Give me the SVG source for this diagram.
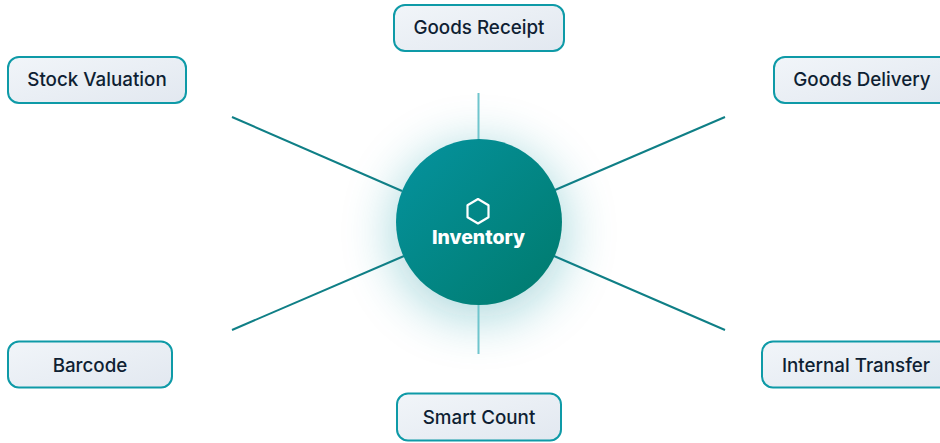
<svg xmlns="http://www.w3.org/2000/svg" width="940" height="443" viewBox="0 0 940 443">
<style>
.box{fill:url(#boxg);stroke:#0e9aa7;stroke-width:2}
.lbl{font-family:Inter,"Liberation Sans",sans-serif;font-size:18.800px;font-weight:450;fill:#0f1f33;text-anchor:middle}
.diag{stroke:#0f7f86;stroke-width:2;fill:none}
.vert{stroke:#6fc5cd;stroke-width:2;fill:none}
</style>
<defs>
<linearGradient id="boxg" x1="0" y1="0" x2="1" y2="1"><stop offset="0" stop-color="#f1f5f9"/><stop offset="1" stop-color="#e2e8f0"/></linearGradient>
<linearGradient id="hub" x1="0" y1="0" x2="1" y2="1"><stop offset="0" stop-color="#05939f"/><stop offset="1" stop-color="#007a6c"/></linearGradient>
<filter id="glow" x="-80%" y="-80%" width="260%" height="260%"><feGaussianBlur stdDeviation="26"/></filter>
</defs>
<rect width="940" height="443" fill="#fff"/>
<circle cx="479" cy="232" r="86" fill="#0e919e" opacity="0.36" filter="url(#glow)"/>
<g id="connectors">
<line class="vert" x1="478.500" y1="93" x2="478.500" y2="140"/>
<line class="vert" x1="478.500" y1="304" x2="478.500" y2="354"/>
<line class="diag" x1="232" y1="117" x2="402" y2="191"/>
<line class="diag" x1="725" y1="117" x2="555" y2="190"/>
<line class="diag" x1="232" y1="330" x2="404" y2="256"/>
<line class="diag" x1="725" y1="330" x2="554" y2="256"/>
</g>
<g id="hub-node">
<circle cx="479" cy="222" r="83" fill="url(#hub)"/>
<path d="M478 199 L488.500 205.200 L488.500 217.300 L478 223.500 L467.500 217.300 L467.500 205.200 Z" fill="none" stroke="#fff" stroke-width="2.200" stroke-linejoin="round"/>
<text x="478.500" y="243.500" font-family="Inter,'Liberation Sans',sans-serif" font-size="19" font-weight="800" fill="#fff" text-anchor="middle" textLength="93" lengthAdjust="spacingAndGlyphs">Inventory</text>
</g>
<g id="node-goods-receipt"><rect class="box" x="394" y="5" width="170" height="46" rx="11"/><text class="lbl" x="479" y="34.200">Goods Receipt</text></g>
<g id="node-stock-valuation"><rect class="box" x="8" y="57" width="178" height="46" rx="11"/><text class="lbl" x="97" y="86.200">Stock Valuation</text></g>
<g id="node-goods-delivery"><rect class="box" x="774" y="57" width="178" height="46" rx="11"/><text class="lbl" x="862" y="86.200">Goods Delivery</text></g>
<g id="node-barcode"><rect class="box" x="8" y="341.500" width="164" height="46" rx="11"/><text class="lbl" x="90" y="372.300">Barcode</text></g>
<g id="node-internal-transfer"><rect class="box" x="762" y="341.500" width="190" height="46" rx="11"/><text class="lbl" x="856" y="372.300">Internal Transfer</text></g>
<g id="node-smart-count"><rect class="box" x="397" y="393.500" width="164" height="47" rx="11"/><text class="lbl" x="479" y="424.300">Smart Count</text></g>
</svg>
